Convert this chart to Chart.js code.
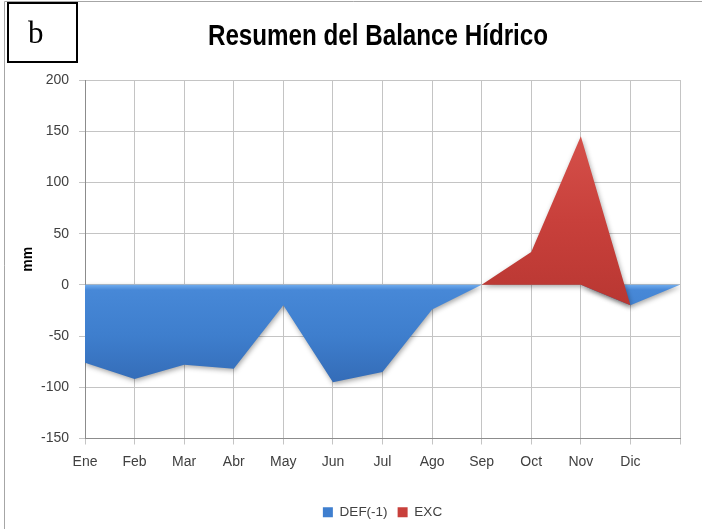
<!DOCTYPE html>
<html>
<head>
<meta charset="utf-8">
<script src="https://cdn.jsdelivr.net/npm/chart.js@4.4.1/dist/chart.umd.min.js"></script>
<style>
  html, body { margin: 0; padding: 0; background: #fff; }
  #wrap { position: relative; width: 702px; height: 529px; }
</style>
</head>
<body>
<div id="wrap"><canvas id="c" width="702" height="529"></canvas></div>
<script>
// Monthly water balance: deficit (stored as negative) and surplus, in mm
const months = ['Ene', 'Feb', 'Mar', 'Abr', 'May', 'Jun', 'Jul', 'Ago', 'Sep', 'Oct', 'Nov', 'Dic', ''];
const deficit = [-76, -92, -78, -82, -20, -95, -85, -24, 0, 0, 0, -20, 0];
const surplus = [0, 0, 0, 0, 0, 0, 0, 0, 0, 32, 145, 0, 0];
const yTicks = { min: -150, max: 200, step: 50 };

// surplus sits stacked on top of the deficit series
const surplusTop = surplus.map((v, i) => v + deficit[i]);

const FONT = "'Liberation Sans', Arial, sans-serif";

function blueFill(ctx) {
  const chart = ctx.chart, area = chart.chartArea;
  if (!area) return '#3f7fcf';
  const y = chart.scales.y;
  const top = y.getPixelForValue(0), bot = y.getPixelForValue(-100);
  const g = chart.ctx.createLinearGradient(0, top, 0, bot);
  g.addColorStop(0, '#6eaaed');
  g.addColorStop(0.05, '#4788d7');
  g.addColorStop(0.5, '#3e7ecd');
  g.addColorStop(1, '#336ab5');
  return g;
}
function redFill(ctx) {
  const chart = ctx.chart, area = chart.chartArea;
  if (!area) return '#c8403b';
  const y = chart.scales.y;
  const top = y.getPixelForValue(145), bot = y.getPixelForValue(-20);
  const g = chart.ctx.createLinearGradient(0, top, 0, bot);
  g.addColorStop(0, '#d5504a');
  g.addColorStop(0.5, '#c8403b');
  g.addColorStop(1, '#b93732');
  return g;
}

// soft drop shadow under the filled areas
const areaShadow = {
  id: 'areaShadow',
  beforeDatasetsDraw(chart) {
    const c = chart.ctx;
    c.save();
    c.shadowColor = 'rgba(0,0,0,0.35)';
    c.shadowBlur = 5;
    c.shadowOffsetX = 1;
    c.shadowOffsetY = 2;
  },
  afterDatasetsDraw(chart) { chart.ctx.restore(); }
};

// frame, panel letter and heading
const decor = {
  id: 'decor',
  beforeDraw(chart) {
    const c = chart.ctx;
    c.save();
    c.fillStyle = '#fff';
    c.fillRect(0, 0, chart.width, chart.height);
    c.strokeStyle = '#a6a6a6';
    c.lineWidth = 1;
    c.beginPath();
    c.moveTo(4.5, 529); c.lineTo(4.5, 1.5); c.lineTo(702, 1.5);
    c.stroke();
    c.restore();
  },
  afterDraw(chart) {
    const c = chart.ctx;
    c.save();
    c.strokeStyle = '#000';
    c.lineWidth = 2;
    c.strokeRect(8, 3, 69, 59);
    c.fillStyle = '#000';
    c.font = "31px 'Liberation Serif', 'DejaVu Serif', serif";
    c.textAlign = 'left';
    c.textBaseline = 'alphabetic';
    c.fillText('b', 28, 43);
    // condensed bold heading
    c.translate(378, 45);
    c.scale(0.82, 1);
    c.font = "bold 29.5px " + FONT;
    c.textAlign = 'center';
    c.fillText('Resumen del Balance Hídrico', 0, 0);
    c.restore();
  }
};

new Chart(document.getElementById('c'), {
  type: 'line',
  data: {
    labels: months,
    datasets: [
      {
        label: 'DEF(-1)',
        data: deficit,
        order: 1,
        fill: 'origin',
        backgroundColor: blueFill,
        borderWidth: 0,
        pointRadius: 0,
        tension: 0
      },
      {
        label: 'EXC',
        data: surplusTop,
        order: 0,
        fill: '-1',
        backgroundColor: redFill,
        borderWidth: 0,
        pointRadius: 0,
        tension: 0
      }
    ]
  },
  options: {
    responsive: false,
    animation: false,
    events: [],
    layout: { padding: { left: 10, right: 22, top: 80, bottom: 0 } },
    plugins: {
      legend: {
        position: 'bottom',
        fullSize: false,
        labels: {
          boxWidth: 10,
          boxHeight: 10,
          padding: 10,
          color: '#404040',
          font: { family: FONT, size: 13.5 },
          generateLabels(chart) {
            const items = Chart.defaults.plugins.legend.labels.generateLabels(chart);
            const cols = ['#3f7fcf', '#c8403b'];
            items.sort((a, b) => a.datasetIndex - b.datasetIndex);
            items.forEach((it) => {
              const col = cols[it.datasetIndex];
              it.fillStyle = col; it.strokeStyle = col; it.lineWidth = 0;
            });
            return items;
          }
        }
      },
      tooltip: { enabled: false }
    },
    scales: {
      x: {
        offset: false,
        grid: { color: '#c4c4c4', tickLength: 6, offset: false },
        border: { color: '#8c8c8c' },
        ticks: {
          autoSkip: false,
          maxRotation: 0,
          padding: 9,
          color: '#404040',
          font: { family: FONT, size: 14 }
        },
        afterFit(scale) { scale.height = 57; }
      },
      y: {
        min: yTicks.min,
        max: yTicks.max,
        grid: { color: '#c4c4c4', tickLength: 6 },
        border: { color: '#8c8c8c' },
        ticks: {
          stepSize: yTicks.step,
          padding: 10,
          color: '#404040',
          font: { family: FONT, size: 14 }
        },
        title: {
          display: true,
          text: 'mm',
          color: '#000',
          padding: { top: 10, bottom: 0 },
          font: { family: FONT, size: 14, weight: 'bold' }
        },
        afterFit(scale) { scale.width = 75; }
      }
    }
  },
  plugins: [decor, areaShadow]
});
</script>
</body>
</html>
